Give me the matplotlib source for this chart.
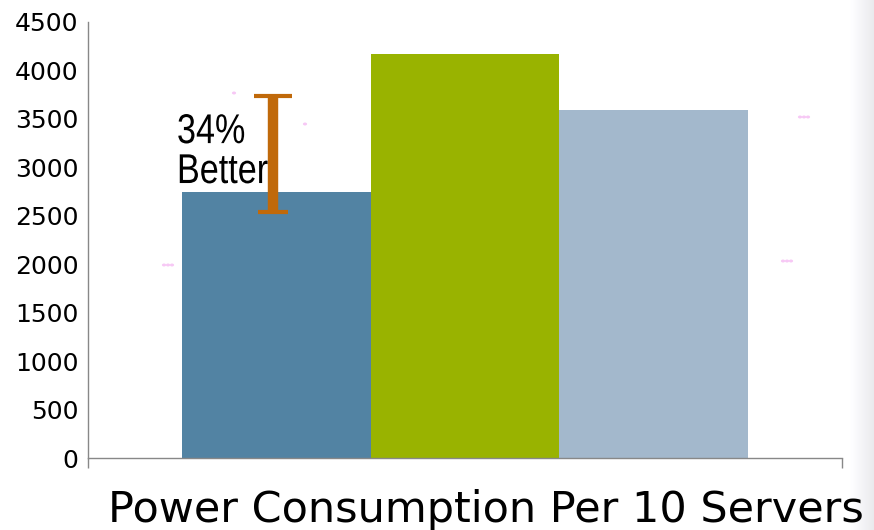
import numpy as np
import matplotlib
matplotlib.use('Agg')
import matplotlib.pyplot as plt
from matplotlib.patheffects import AbstractPathEffect
from matplotlib.transforms import Affine2D

# power draw per 10 servers, one bar per system
systems = ['System A', 'System B', 'System C']
power = [2750, 4170, 3590]
bar_colors = ['#5283a3', '#99b300', '#a3b8cc']

# range of the "34% better" marker
gap_low = 2540
gap_high = 3735
gap_label = ['34%', 'Better']

y_ticks = np.arange(0, 4501, 500)


class Squeeze(AbstractPathEffect):
    """Draw glyphs compressed horizontally around a fixed display x."""

    def __init__(self, x0, sx=0.82):
        super().__init__()
        self.x0 = x0
        self.sx = sx

    def draw_path(self, renderer, gc, tpath, affine, rgbFace=None):
        squeeze = Affine2D().translate(-self.x0, 0).scale(self.sx, 1).translate(self.x0, 0)
        renderer.draw_path(gc, tpath, affine + squeeze, rgbFace)


fig = plt.figure(figsize=(8.74, 5.30), dpi=100)
ax = fig.add_axes([88 / 874, 1 - 458 / 530, 754 / 874, 436 / 530])

x = np.arange(len(systems))
ax.bar(x, power, width=1.0, color=bar_colors, zorder=2)

ax.set_xlim(-1.0, 3.0)
ax.set_ylim(0, 4500)
ax.set_yticks(y_ticks)
ax.set_yticklabels([str(v) for v in y_ticks], fontsize=18, family='DejaVu Sans')
ax.tick_params(axis='y', length=0, pad=7)
ax.set_xticks([-1.0, 3.0])
ax.set_xticklabels([])
ax.tick_params(axis='x', length=7, width=1, color='#888888', direction='out')

for side in ['top', 'right']:
    ax.spines[side].set_visible(False)
for side in ['left', 'bottom']:
    ax.spines[side].set_color('#888888')
    ax.spines[side].set_linewidth(1)

# I-beam showing the gap between the first two systems
mx = -0.02
ax.plot([mx, mx], [gap_low, gap_high], color='#c0690a', lw=7.5,
        solid_capstyle='butt', zorder=3)
ax.plot([mx - 0.1, mx + 0.1], [gap_high, gap_high], color='#c0690a', lw=3,
        solid_capstyle='butt', zorder=3)
ax.plot([mx - 0.08, mx + 0.08], [gap_low, gap_low], color='#c0690a', lw=3,
        solid_capstyle='butt', zorder=3)

# condensed "34% / Better" label
lx = -0.528
x0 = ax.transData.transform((lx, 0))[0]
for s, yy in zip(gap_label, [3250, 2838]):
    t = ax.text(lx, yy, s, fontsize=30, family=['Liberation Sans', 'DejaVu Sans'],
                va='baseline', ha='left', zorder=4)
    t.set_path_effects([Squeeze(x0)])

fig.text(108 / 874, 8 / 530, 'Power Consumption Per 10 Servers', fontsize=31,
         family='DejaVu Sans', ha='left', va='baseline')

# faint pink dots left over from hidden labels
for px, py in [(168, 265), (804, 117), (787, 261)]:
    for dx in (-4, 0, 4):
        fig.patches.append(plt.Circle(((px + dx) / 874, 1 - py / 530), 0.0015,
                                      transform=fig.transFigure, color='#f7c8f5'))
for px, py in [(234, 93), (305, 124)]:
    fig.patches.append(plt.Circle((px / 874, 1 - py / 530), 0.0015,
                                  transform=fig.transFigure, color='#f7c8f5'))

# soft grey shade down the right edge
shade = fig.add_axes([850 / 874, 0, 24 / 874, 1], zorder=-1)
grad = np.linspace(1.0, 0.92, 50).reshape(1, -1)
shade.imshow(np.dstack([grad, grad, grad + 0.01]).clip(0, 1), aspect='auto',
             extent=[0, 1, 0, 1])
shade.axis('off')

fig.savefig('out.png', dpi=100)
